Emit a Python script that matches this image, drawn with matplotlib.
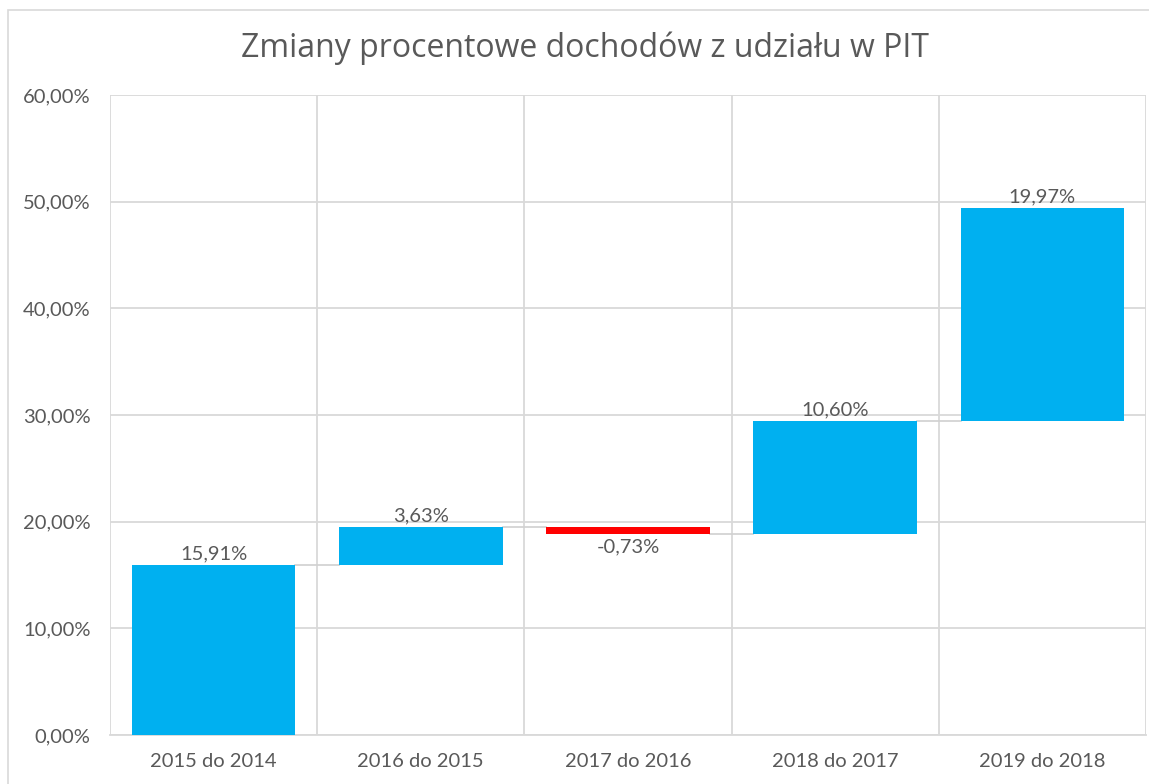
import numpy as np
import matplotlib.pyplot as plt
from matplotlib.patches import Rectangle

categories = ['2015 do 2014', '2016 do 2015', '2017 do 2016', '2018 do 2017', '2019 do 2018']
changes = [15.91, 3.63, -0.73, 10.60, 19.97]
labels = ['15,91%', '3,63%', '-0,73%', '10,60%', '19,97%']

blue = '#00B0F0'
red = '#FF0000'
txt = '#595959'
grid = '#D9D9D9'

plt.rcParams['font.family'] = ['Lato', 'DejaVu Sans']

fig = plt.figure(figsize=(11.49, 7.84), dpi=100)
ax = fig.add_axes([0.0957, 0.0625, 0.9017, 0.8163])

ends = np.cumsum(changes)
starts = ends - np.array(changes)
x = np.arange(len(categories))
w = 0.79

for i in range(len(categories)):
    col = blue if changes[i] >= 0 else red
    ax.bar(x[i], changes[i], bottom=starts[i], width=w, color=col, zorder=3)
    if changes[i] >= 0:
        ax.text(x[i], ends[i] + 0.25, labels[i], ha='center', va='bottom',
                fontsize=14.5, color=txt, zorder=4)
    else:
        ax.text(x[i], ends[i] - 0.4, labels[i], ha='center', va='top',
                fontsize=14.5, color=txt, zorder=4)
    if i < len(categories) - 1:
        ax.plot([x[i] + w / 2, x[i + 1] - w / 2], [ends[i], ends[i]],
                color='#D0D0D0', lw=1.2, zorder=2)

ax.set_xlim(-0.5, len(categories) - 0.5)
ax.set_ylim(0, 60)
ax.set_yticks(np.arange(0, 61, 10))
ax.set_yticklabels(['%d,00%%' % v for v in range(0, 61, 10)])
ax.set_xticks(x)
ax.set_xticklabels(categories)
ax.set_xticks(np.arange(-0.5, len(categories)), minor=True)
ax.grid(axis='y', color=grid, lw=1.3, zorder=0)
ax.grid(axis='x', which='minor', color=grid, lw=1.3, zorder=0)
ax.tick_params(axis='both', which='both', length=0, labelsize=14.5, colors=txt)
ax.tick_params(axis='x', pad=13)
ax.tick_params(axis='y', pad=14)
for s in ['top', 'right', 'left']:
    ax.spines[s].set_visible(False)
ax.spines['bottom'].set_color(grid)
ax.spines['bottom'].set_linewidth(1.3)

fig.text(0.509, 0.938, 'Zmiany procentowe dochodów z udziału w PIT', ha='center', va='center',
         fontsize=23, color=txt, family=['Open Sans', 'DejaVu Sans'])

fig.patches.append(Rectangle((0.007, -0.01), 1.1, 0.997, transform=fig.transFigure,
                             fill=False, edgecolor='#D9D9D9', lw=1.2))

fig.savefig('out.png', dpi=100)
